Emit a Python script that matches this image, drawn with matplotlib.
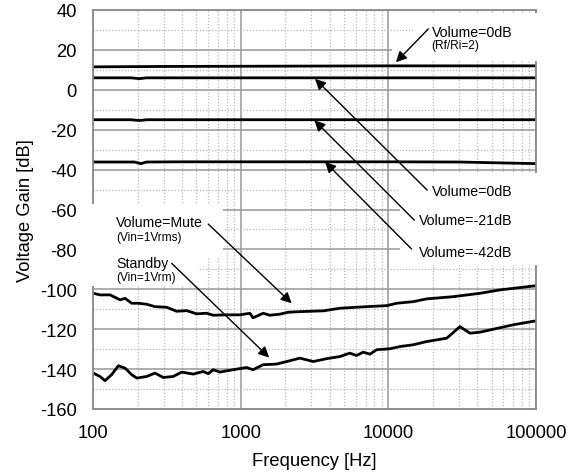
import matplotlib
matplotlib.use("Agg")
import matplotlib.pyplot as plt
from matplotlib.ticker import LogLocator, MultipleLocator, FixedLocator, NullFormatter
from matplotlib.patches import Rectangle

plt.rcParams['font.family'] = ['Liberation Sans', 'DejaVu Sans']
plt.rcParams['axes.unicode_minus'] = False

# ---- data ----
vol0_rf_f = [100, 300, 1000, 10000, 100000]
vol0_rf_db = [11.5, 11.7, 11.8, 12.0, 12.0]

vol0_f = [100, 180, 205, 230, 400, 1000, 10000, 100000]
vol0_db = [6.0, 6.0, 5.6, 6.0, 6.0, 6.0, 6.0, 6.0]

vol21_f = [100, 180, 205, 230, 400, 1000, 10000, 100000]
vol21_db = [-15.0, -15.0, -15.4, -15.0, -15.0, -15.0, -15.0, -15.0]

vol42_f = [100, 190, 210, 230, 400, 1000, 10000, 30000, 100000]
vol42_db = [-36.2, -36.2, -37.0, -36.2, -36.1, -36.1, -36.1, -36.2, -37.0]

mute_f = [100, 111, 130, 152, 164, 182, 202, 230, 262, 314, 367, 430, 501, 585,
          650, 800, 985, 1150, 1210, 1415, 1570, 1830, 2090, 2510, 3610, 4690,
          7110, 9720, 11370, 14730, 18150, 27500, 41700, 57000, 100000]
mute_db = [-102.0, -102.8, -102.8, -105.3, -104.5, -107.0, -107.0, -107.5, -108.7,
           -109.0, -111.0, -110.7, -112.3, -112.0, -113.0, -112.8, -112.8, -112.0,
           -114.3, -112.0, -113.0, -112.5, -111.5, -111.2, -110.8, -109.5, -108.7,
           -108.2, -107.0, -106.2, -104.8, -103.7, -102.0, -100.3, -98.2]

stby_f = [100, 111, 120, 133, 148, 164, 182, 197, 230, 262, 298, 348, 397, 476,
          556, 602, 650, 720, 887, 1090, 1210, 1415, 1740, 2150, 2510, 3090, 3800,
          4690, 5470, 6080, 6750, 7500, 8320, 10250, 11970, 14730, 18150, 24850,
          30500, 35700, 41700, 70000, 100000]
stby_db = [-142.0, -143.7, -145.8, -142.8, -138.3, -139.5, -142.8, -144.5, -143.7,
           -142.0, -144.2, -143.7, -141.5, -142.5, -141.2, -142.3, -140.3, -141.5,
           -140.3, -139.2, -140.3, -137.8, -137.5, -135.8, -134.5, -136.2, -134.8,
           -133.7, -132.0, -133.2, -131.5, -132.5, -130.3, -129.8, -128.7, -127.8,
           -126.2, -124.5, -118.7, -122.0, -121.5, -117.8, -115.8]

x_ticks = [100, 1000, 10000, 100000]
x_ticklabels = ['100', '1000', '10000', '100000']
y_ticks = [-160, -140, -120, -100, -80, -60, -40, -20, 0, 20, 40]

# ---- figure ----
fig = plt.figure(figsize=(5.74, 4.77), dpi=100)
ax = fig.add_axes([93.3 / 574, 1 - 410 / 477, (536 - 93.3) / 574, (410 - 11) / 477])
ax.set_xscale('log')
ax.set_xlim(100, 100000)
ax.set_ylim(-160, 40)
ax.set_axisbelow(True)

ax.xaxis.set_major_locator(FixedLocator(x_ticks))
ax.set_xticklabels(x_ticklabels)
ax.xaxis.set_minor_locator(LogLocator(base=10, subs=range(2, 10)))
ax.xaxis.set_minor_formatter(NullFormatter())
ax.yaxis.set_major_locator(FixedLocator(y_ticks))
ax.yaxis.set_minor_locator(MultipleLocator(10))

ax.grid(which='major', color='#979797', lw=1.1, ls='-')
ax.grid(which='minor', color='#b8b8b8', lw=0.9, ls=(0, (1, 1.5)))
ax.tick_params(which='both', length=0)
ax.tick_params(axis='y', labelsize=13.2, pad=12)
ax.tick_params(axis='x', labelsize=13.2, pad=11)
for s in ax.spines.values():
    s.set_color('#8a8a8a')
    s.set_linewidth(1.3)

lw = 2.0
for f, d in [(vol0_rf_f, vol0_rf_db), (vol0_f, vol0_db), (vol21_f, vol21_db),
             (vol42_f, vol42_db), (mute_f, mute_db), (stby_f, stby_db)]:
    ax.plot(f, d, color='black', lw=lw, zorder=2, solid_joinstyle='round')

# white text boxes (hide grid behind labels), in figure pixel coords
def wbox(x0, y0, x1, y1):
    r = Rectangle((x0 / 574, 1 - y1 / 477), (x1 - x0) / 574, (y1 - y0) / 477,
                  transform=fig.transFigure, facecolor='white',
                  edgecolor='none', zorder=3, clip_on=False)
    ax.add_artist(r)

wbox(413, 14, 540, 48)
wbox(392, 48, 540, 62)
wbox(400, 174, 540, 266)
wbox(88, 205, 223, 258)
wbox(88, 258, 199, 287)

ax.set_xlabel('Frequency [Hz]', fontsize=13.2, labelpad=8)
ax.set_ylabel('Voltage Gain [dB]', fontsize=13.2, labelpad=4)

big = 10.2
small = 8.6
txt = dict(color='black', zorder=5, va='center', ha='left')
ax.text(19630, 29.2, 'Volume=0dB', fontsize=big, **txt)
ax.text(19630, 22.5, '(Rf/Ri=2)', fontsize=small, **txt)
ax.text(19630, -50.7, 'Volume=0dB', fontsize=big, **txt)
ax.text(16180, -65.3, 'Volume=-21dB', fontsize=big, **txt)
ax.text(16180, -81.2, 'Volume=-42dB', fontsize=big, **txt)
ax.text(142.5, -66.2, 'Volume=Mute', fontsize=big, **txt)
ax.text(142.5, -73.7, '(Vin=1Vrms)', fontsize=small, **txt)
ax.text(142.5, -86.7, 'Standby', fontsize=big, **txt)
ax.text(142.5, -93.7, '(Vin=1Vrm)', fontsize=small, **txt)

arrows = [((11240, 13.8), (18630, 30.5)),
          ((3180, 5.5), (18320, -50.3)),
          ((3150, -15.3), (14960, -65.3)),
          ((3720, -36.2), (14350, -79.8)),
          ((2210, -107.0), (601, -67.3)),
          ((1555, -134.2), (340, -87.0))]
for tip, tail in arrows:
    ax.annotate('', xy=tip, xytext=tail,
                arrowprops=dict(arrowstyle='-|>', color='black', lw=1.0,
                                mutation_scale=16, shrinkA=0, shrinkB=0),
                zorder=6)

fig.savefig('out.png', dpi=100)
